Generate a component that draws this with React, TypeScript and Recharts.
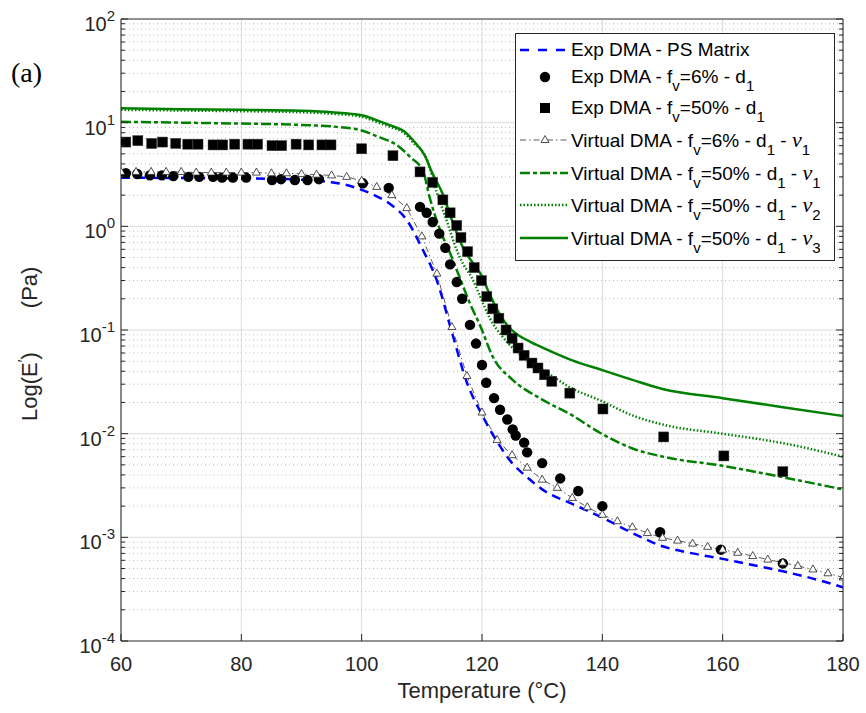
import React from "react";
import {
  ComposedChart, Line, XAxis, YAxis, CartesianGrid, ReferenceLine, Legend,
} from "recharts";

// ---- data ----
const xTicks = [60, 80, 100, 120, 140, 160, 180];
const yDecades = [1e-4, 1e-3, 1e-2, 1e-1, 1, 10, 100];
const yMinorSteps = [2, 3, 4, 5, 6, 7, 8, 9];

// Exp DMA - PS Matrix (blue dashed)
const matrixT = [60, 70, 80, 90, 92.5, 95, 97.5, 100, 102.5, 105, 107.5, 110, 112.5, 115, 117.5, 120, 122.5, 125, 127.5, 130, 135, 140, 145, 150, 155, 160, 165, 170, 175, 180];
const matrixE = [2.95, 2.92, 2.9, 2.82, 2.76, 2.66, 2.5, 2.25, 1.95, 1.6, 1.15, 0.62, 0.3, 0.095, 0.031, 0.0152, 0.0084, 0.0052, 0.0038, 0.0029, 0.0021, 0.00155, 0.0011, 0.00082, 0.0007, 0.00062, 0.00054, 0.00047, 0.0004, 0.00033];

// Exp DMA - fv=6% - d1 (circles)
const exp6T = [60.8, 62.7, 64.8, 66.8, 68.7, 71.2, 73.0, 75.3, 76.8, 78.6, 80.8, 85.1, 86.6, 88.9, 91.0, 92.9, 100.2, 104.5, 109.7, 110.8, 111.8, 112.9, 113.9, 114.7, 115.8, 116.7, 118, 119, 120, 120.7, 122, 123, 124.2, 125.1, 125.6, 127, 127.5, 130, 133, 136, 140, 149.6, 159.7, 170];
const exp6E = [3.25, 3.2, 3.1, 3.1, 3.05, 3.0, 3.0, 3.0, 2.95, 2.95, 2.95, 2.8, 2.85, 2.8, 2.8, 2.85, 2.6, 2.35, 1.54, 1.35, 1.1, 0.85, 0.62, 0.43, 0.29, 0.2, 0.112, 0.074, 0.046, 0.031, 0.022, 0.017, 0.0137, 0.011, 0.0096, 0.0082, 0.0066, 0.0052, 0.0037, 0.0028, 0.002, 0.00112, 0.00076, 0.00056];

// Exp DMA - fv=50% - d1 (squares)
const exp50T = [60.8, 62.8, 65.1, 66.9, 69.1, 71.1, 72.8, 75.3, 76.9, 78.9, 81.1, 82.7, 85.1, 86.7, 89.1, 91.2, 93.4, 94.9, 100, 105.2, 109.7, 111.8, 113.5, 114.7, 115.8, 116.5, 117.6, 118.7, 119.9, 120.8, 121.8, 122.8, 124, 125, 126, 127, 128.3, 129.3, 130.4, 131.6, 134.6, 140.1, 150.2, 160.2, 170];
const exp50E = [6.5, 6.7, 6.3, 6.5, 6.3, 6.2, 6.2, 6.1, 6.1, 6.2, 6.2, 6.2, 6.0, 6.0, 6.2, 6.1, 6.1, 6.1, 5.6, 4.8, 3.35, 2.65, 1.8, 1.35, 1.02, 0.78, 0.57, 0.4, 0.3, 0.21, 0.16, 0.13, 0.1, 0.083, 0.067, 0.057, 0.048, 0.043, 0.037, 0.032, 0.0246, 0.0173, 0.0093, 0.0061, 0.0043];

// Virtual DMA - fv=6% - d1 - nu1 (triangles)
const virt6T = [60, 62.5, 65, 67.5, 70, 72.5, 75, 77.5, 80, 82.5, 85, 87.5, 90, 92.5, 95, 97.5, 100, 102.5, 105, 107.5, 110, 112.5, 115, 117.5, 120, 122.5, 125, 127.5, 130, 132.5, 135, 137.5, 140, 142.5, 145, 147.5, 150, 152.5, 155, 157.5, 160, 162.5, 165, 167.5, 170, 172.5, 175, 177.5, 180];
const virt6E = [3.35, 3.35, 3.35, 3.35, 3.35, 3.3, 3.3, 3.3, 3.3, 3.3, 3.25, 3.25, 3.2, 3.15, 3.1, 3.0, 2.75, 2.4, 2.0, 1.5, 0.8, 0.35, 0.107, 0.036, 0.016, 0.0087, 0.0062, 0.0047, 0.0036, 0.003, 0.0024, 0.00195, 0.00165, 0.00143, 0.00125, 0.0011, 0.00099, 0.00093, 0.00087, 0.00081, 0.00076, 0.00071, 0.00066, 0.00061, 0.00057, 0.00053, 0.00049, 0.00045, 0.00041];

// Virtual DMA - fv=50% - d1 - nu1 (green dash-dot)
const nu1T = [60, 70, 80, 90, 95, 100, 103, 106, 108, 110.2, 111.3, 113, 114.7, 116.3, 118, 119.7, 121.8, 125.1, 129.6, 135, 139.6, 145, 150.7, 160, 170, 180];
const nu1E = [10.2, 10.0, 9.8, 9.5, 9.2, 8.4, 7.2, 6.0, 4.7, 3.4, 1.9, 0.93, 0.55, 0.32, 0.18, 0.11, 0.055, 0.033, 0.022, 0.015, 0.0102, 0.0072, 0.0059, 0.0049, 0.0038, 0.0029];

// Virtual DMA - fv=50% - d1 - nu2 (green dotted)
const nu2T = [60, 70, 80, 90, 95, 100, 103, 105, 107, 108.5, 111, 112.2, 114.2, 115.8, 116.8, 118.3, 119.7, 121.3, 123.5, 126.8, 130.8, 134.6, 139.6, 145, 150.7, 160, 170, 180];
const nu2E = [13.3, 13.1, 12.9, 12.6, 12.2, 11.4, 9.9, 9.0, 8.0, 6.5, 4.2, 2.4, 1.1, 0.59, 0.44, 0.32, 0.21, 0.13, 0.085, 0.055, 0.039, 0.028, 0.021, 0.015, 0.012, 0.01, 0.0081, 0.006];

// Virtual DMA - fv=50% - d1 - nu3 (green solid)
const nu3T = [60, 70, 80, 90, 95, 100, 103, 105, 107, 108.5, 110.5, 111.7, 113.4, 115.2, 116.8, 118.5, 120, 121, 122, 123, 124, 125, 126.3, 128, 130, 135, 140, 145, 150, 160, 170, 180];
const nu3E = [13.8, 13.5, 13.3, 13.0, 12.6, 11.8, 10.3, 9.3, 8.3, 6.8, 4.8, 3.3, 2.1, 1.07, 0.63, 0.44, 0.33, 0.24, 0.18, 0.14, 0.115, 0.099, 0.087, 0.077, 0.068, 0.051, 0.041, 0.033, 0.027, 0.022, 0.018, 0.0148];

const pts = (t: number[], e: number[]) => t.map((x, i) => ({ t: x, v: e[i] }));

const yMinor = yDecades.slice(0, -1).flatMap((d) => yMinorSteps.map((s) => d * s));
const yAllTicks = [...yDecades, ...yMinor].sort((a, b) => a - b);

const AX = "#262626";
const GREEN = "#008000";
const FONT = "'Liberation Sans', Arial, Helvetica, sans-serif";
const SERIF = "'Liberation Serif', 'Times New Roman', serif";

const isDecade = (v: number) => Math.abs(Math.log10(v) - Math.round(Math.log10(v))) < 1e-6;

const LeftTick = (props: any) => {
  const { x, y, payload } = props;
  const v = payload.value;
  const major = isDecade(v);
  const exp = Math.round(Math.log10(v));
  return (
    <g>
      <line x1={x} x2={x + (major ? 7 : 4)} y1={y} y2={y} stroke={AX} strokeWidth={1} />
      {major && (
        <text x={x - 6} y={y + 12} textAnchor="end" fontFamily={FONT} fontSize={20} fill={AX}>
          10<tspan dy={-10} fontSize={15}>{exp}</tspan>
        </text>
      )}
    </g>
  );
};

const RightTick = (props: any) => {
  const { x, y, payload } = props;
  const major = isDecade(payload.value);
  return <line x1={x} x2={x - (major ? 7 : 4)} y1={y} y2={y} stroke={AX} strokeWidth={1} />;
};

const BottomTick = (props: any) => {
  const { x, y, payload } = props;
  return (
    <g>
      <line x1={x} x2={x} y1={y} y2={y - 7} stroke={AX} strokeWidth={1} />
      <text x={x} y={y + 30} textAnchor="middle" fontFamily={FONT} fontSize={20} fill={AX}>
        {payload.value}
      </text>
    </g>
  );
};

const TopTick = (props: any) => {
  const { x, y } = props;
  return <line x1={x} x2={x} y1={y} y2={y + 7} stroke={AX} strokeWidth={1} />;
};

const XTitle = () => (
  <text x={482} y={698} textAnchor="middle" fontFamily={FONT} fontSize={22} fill={AX}>
    Temperature (°C)
  </text>
);

const YTitle = () => (
  <g>
    <text
      x={0} y={0} textAnchor="start" fontFamily={FONT} fontSize={22} fill={AX}
      transform="translate(37 421) rotate(-90)"
    >
      Log(E<tspan dy={-9} fontSize={15}>′</tspan><tspan dy={9}>)</tspan>
      <tspan dx={44}>(Pa)</tspan>
    </text>
    <text x={11} y={82} fontFamily={SERIF} fontSize={28} fill="#000">
      (a)
    </text>
  </g>
);

const CircleDot = (props: any) => {
  const { cx, cy } = props;
  if (cx == null || cy == null) return null;
  return <circle cx={cx} cy={cy} r={5.2} fill="#000" />;
};

const SquareDot = (props: any) => {
  const { cx, cy } = props;
  if (cx == null || cy == null) return null;
  return <rect x={cx - 5} y={cy - 5} width={10} height={10} fill="#000" stroke="#333" strokeWidth={0.5} />;
};

const TriDot = (props: any) => {
  const { cx, cy } = props;
  if (cx == null || cy == null) return null;
  return (
    <path
      d={`M${cx},${cy - 4.5} L${cx + 4},${cy + 2.5} L${cx - 4},${cy + 2.5} Z`}
      fill="#fff" stroke="#222" strokeWidth={0.8}
    />
  );
};

const Sub = ({ children }: { children: React.ReactNode }) => (
  <span style={{ fontSize: 15, position: "relative", top: 8 }}>{children}</span>
);
const Nu = () => (
  <span style={{ fontFamily: SERIF, fontStyle: "italic", fontSize: 22 }}>ν</span>
);

type Kind = "blue" | "circle" | "square" | "tri" | "dashdot" | "dotted" | "solid";

const Sample = ({ kind }: { kind: Kind }) => (
  <svg width={50} height={20} style={{ position: "absolute", left: 2, top: -10 }}>
    {kind === "blue" && <line x1={2} x2={50} y1={10} y2={10} stroke="#0000ff" strokeWidth={2.5} strokeDasharray="9 9" />}
    {kind === "circle" && <circle cx={27} cy={10} r={5.2} fill="#000" />}
    {kind === "square" && <rect x={22} y={5} width={10} height={10} fill="#000" />}
    {kind === "tri" && (
      <g>
        <line x1={2} x2={50} y1={10} y2={10} stroke="#333" strokeWidth={0.8} strokeDasharray="6 3 1.5 3" />
        <path d="M27,5.5 L31,12.5 L23,12.5 Z" fill="#fff" stroke="#222" strokeWidth={0.8} />
      </g>
    )}
    {kind === "dashdot" && <line x1={2} x2={50} y1={10} y2={10} stroke={GREEN} strokeWidth={2.5} strokeDasharray="10 3 4 3" />}
    {kind === "dotted" && <line x1={2} x2={50} y1={10} y2={10} stroke={GREEN} strokeWidth={2.5} strokeDasharray="1.5 2" />}
    {kind === "solid" && <line x1={2} x2={50} y1={10} y2={10} stroke={GREEN} strokeWidth={2.5} />}
  </svg>
);

const legendRows: { kind: Kind; top: number; label: React.ReactNode }[] = [
  { kind: "blue", top: 16, label: <>Exp DMA - PS Matrix</> },
  { kind: "circle", top: 43, label: <>Exp DMA - f<Sub>v</Sub>=6% - d<Sub>1</Sub></> },
  { kind: "square", top: 74, label: <>Exp DMA - f<Sub>v</Sub>=50% - d<Sub>1</Sub></> },
  { kind: "tri", top: 106, label: <>Virtual DMA - f<Sub>v</Sub>=6% - d<Sub>1</Sub> - <Nu /><Sub>1</Sub></> },
  { kind: "dashdot", top: 139, label: <>Virtual DMA - f<Sub>v</Sub>=50% - d<Sub>1</Sub> - <Nu /><Sub>1</Sub></> },
  { kind: "dotted", top: 171, label: <>Virtual DMA - f<Sub>v</Sub>=50% - d<Sub>1</Sub> - <Nu /><Sub>2</Sub></> },
  { kind: "solid", top: 204, label: <>Virtual DMA - f<Sub>v</Sub>=50% - d<Sub>1</Sub> - <Nu /><Sub>3</Sub></> },
];

const LegendBox = () => (
  <div
    style={{
      position: "relative", width: 320, height: 228, boxSizing: "border-box",
      border: `1px solid ${AX}`, background: "#fff", fontFamily: FONT, fontSize: 19, color: "#000",
    }}
  >
    {legendRows.map((r, i) => (
      <div key={i} style={{ position: "absolute", left: 0, top: r.top, width: "100%" }}>
        <Sample kind={r.kind} />
        <div style={{ position: "absolute", left: 55, top: -12, lineHeight: "24px", whiteSpace: "nowrap" }}>
          {r.label}
        </div>
      </div>
    ))}
  </div>
);

export default function App() {
  return (
    <div style={{ position: "absolute", left: 0, top: 0, background: "#fff" }}>
      <ComposedChart width={866} height={713} margin={{ top: 18, right: 22, bottom: 0, left: 0 }}>
        <CartesianGrid horizontal={false} stroke="#dcdcdc" strokeWidth={1} />
        <XAxis
          dataKey="t" type="number" domain={[60, 180]} ticks={xTicks} allowDataOverflow interval={0}
          height={72} tickSize={0} tickMargin={0} tickLine={false} tick={<BottomTick />}
          axisLine={{ stroke: AX }} label={<XTitle />}
        />
        <XAxis
          xAxisId="top" orientation="top" type="number" domain={[60, 180]} ticks={xTicks} allowDataOverflow
          interval={0} height={1} tickSize={0} tickMargin={0} tickLine={false} tick={<TopTick />}
          axisLine={{ stroke: AX }}
        />
        <YAxis
          type="number" scale="log" domain={[1e-4, 100]} ticks={yAllTicks} allowDataOverflow interval={0}
          width={121} tickSize={0} tickMargin={0} tickLine={false} tick={<LeftTick />}
          axisLine={{ stroke: AX }} label={<YTitle />}
        />
        <YAxis
          yAxisId="right" orientation="right" type="number" scale="log" domain={[1e-4, 100]} ticks={yAllTicks}
          allowDataOverflow interval={0} width={1} tickSize={0} tickMargin={0} tickLine={false}
          tick={<RightTick />} axisLine={{ stroke: AX }}
        />
        {yMinor.map((v) => (
          <ReferenceLine key={`m${v}`} y={v} stroke="#bdbdbd" strokeDasharray="1 3" strokeWidth={1} />
        ))}
        {yDecades.slice(1, -1).map((v) => (
          <ReferenceLine key={`d${v}`} y={v} stroke="#dcdcdc" strokeWidth={1} />
        ))}
        <Line data={pts(matrixT, matrixE)} dataKey="v" type="monotone" stroke="#0000ff" strokeWidth={2.5}
          strokeDasharray="9 6" dot={false} activeDot={false} isAnimationActive={false} />
        <Line data={pts(exp6T, exp6E)} dataKey="v" stroke="none" dot={<CircleDot />} activeDot={false}
          isAnimationActive={false} />
        <Line data={pts(exp50T, exp50E)} dataKey="v" stroke="none" dot={<SquareDot />} activeDot={false}
          isAnimationActive={false} />
        <Line data={pts(virt6T, virt6E)} dataKey="v" type="linear" stroke="#333" strokeWidth={0.8}
          strokeDasharray="6 3 1.5 3" dot={<TriDot />} activeDot={false} isAnimationActive={false} />
        <Line data={pts(nu1T, nu1E)} dataKey="v" type="monotone" stroke={GREEN} strokeWidth={2.5}
          strokeDasharray="10 3 4 3" dot={false} activeDot={false} isAnimationActive={false} />
        <Line data={pts(nu2T, nu2E)} dataKey="v" type="monotone" stroke={GREEN} strokeWidth={2.5}
          strokeDasharray="1.5 2" dot={false} activeDot={false} isAnimationActive={false} />
        <Line data={pts(nu3T, nu3E)} dataKey="v" type="monotone" stroke={GREEN} strokeWidth={2.5}
          dot={false} activeDot={false} isAnimationActive={false} />
        <Legend
          layout="horizontal" verticalAlign="middle" align="center" content={<LegendBox />}
          wrapperStyle={{ left: 515, top: 33, width: 320, height: 228 }}
        />
      </ComposedChart>
    </div>
  );
}
